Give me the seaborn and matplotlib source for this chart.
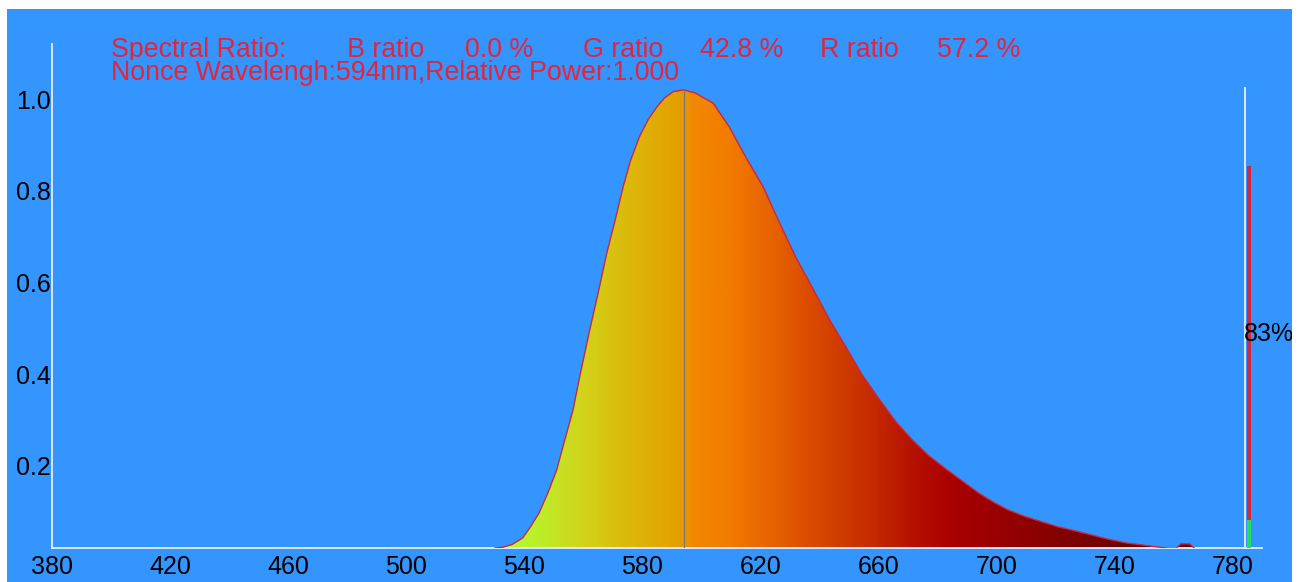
import numpy as np
import matplotlib
matplotlib.use("Agg")
import matplotlib.pyplot as plt
import seaborn as sns
from matplotlib.colors import LinearSegmentedColormap
from matplotlib.patches import Rectangle
from matplotlib.transforms import Bbox, TransformedBbox

# spectrum (nm, relative power)
wavelength = [530, 533, 536, 539.5, 542, 545, 548, 551, 553.5, 556.5, 559, 562, 565, 568,
              571, 573.5, 576, 579, 582, 585, 587.5, 590.5, 594, 598, 604, 609.5, 615,
              621, 626.5, 632, 637.5, 643.5, 649, 654.5, 660.5, 666, 671.5, 677, 683,
              688.5, 694, 699, 704, 710, 716, 721, 727, 732.5, 738, 744, 749.5, 755,
              758, 761, 762.5, 765.5, 767]
power = [0.0, 0.002, 0.008, 0.022, 0.045, 0.076, 0.12, 0.17, 0.23, 0.30, 0.38, 0.47, 0.555,
         0.644, 0.72, 0.788, 0.845, 0.897, 0.935, 0.963, 0.982, 0.996, 1.0, 0.993, 0.971,
         0.919, 0.854, 0.788, 0.71, 0.635, 0.57, 0.498, 0.439, 0.378, 0.323, 0.275, 0.236,
         0.202, 0.172, 0.146, 0.12, 0.1, 0.083, 0.068, 0.056, 0.046, 0.037, 0.028, 0.019,
         0.011, 0.0066, 0.002, 0.0, 0.0, 0.009, 0.009, 0.0]

peak_nm = 594
peak_power = 1.0
ratio_labels = ["B ratio", "G ratio", "R ratio"]
ratio_values = [0.0, 42.8, 57.2]
bar_green = 0.06
bar_total = 0.83

x_ticks = list(range(380, 781, 40))
y_ticks = [0.2, 0.4, 0.6, 0.8, 1.0]

BLUE = "#3595fe"
RED_TXT = "#e3243b"

sns.set_style("white")
plt.rcParams["font.family"] = ["Liberation Sans", "DejaVu Sans"]

W, H = 1300, 582
fig = plt.figure(figsize=(W / 100, H / 100), dpi=100)
fig.patch.set_facecolor("white")
bg = Rectangle((7 / W, 0), (1292 - 7) / W, (H - 9) / H, transform=fig.transFigure,
               facecolor=BLUE, edgecolor="none", zorder=-5)
fig.add_artist(bg)

ax = fig.add_axes([52 / W, 34 / H, 1210 / W, 504 / H])
ax.set_facecolor("none")

# gradient fill under the curve, clipped to the spectrum
stops = [(530, "#b2ff30"), (545, "#bcee28"), (560, "#d2d21a"), (575, "#dcb80a"),
         (592, "#e4a000"), (597, "#f28800"), (610, "#f27a00"), (625, "#e66000"),
         (640, "#d84600"), (655, "#c83000"), (670, "#b81400"), (685, "#aa0000"),
         (700, "#9a0000"), (720, "#860000"), (740, "#700000"), (770, "#5c0000")]
lo, hi = stops[0][0], stops[-1][0]
cmap = LinearSegmentedColormap.from_list(
    "spec", [((s - lo) / (hi - lo), c) for s, c in stops])
grid = np.linspace(380, 790, 1200)
grad = cmap(np.clip((grid - lo) / (hi - lo), 0, 1))[None, :, :]
fill = ax.fill_between(wavelength, power, 0, color="none", lw=0)
im = ax.imshow(grad, extent=[380, 790, 0, 1.1], aspect="auto", origin="lower", zorder=1)
im.set_clip_path(fill.get_paths()[0], ax.transData)

sns.lineplot(x=wavelength, y=power, ax=ax, color="#c8283c", lw=1, errorbar=None, zorder=3)
ax.vlines(peak_nm, 0, peak_power, color="#7a7a7a", lw=1, zorder=4)

ax.set_xlim(380, 790)
ax.set_ylim(0, 1.1)
ax.set_xticks(x_ticks)
ax.set_xticklabels([str(t) for t in x_ticks])
ax.set_yticks(y_ticks)
ax.set_yticklabels([f"{t:.1f}" for t in y_ticks])
ax.tick_params(direction="in", length=5, width=1, color="white", labelcolor="black",
               labelsize=18)
ax.tick_params(axis="x", pad=5)
ax.tick_params(axis="y", pad=1)
for lab in ax.get_yticklabels():
    lab.set_verticalalignment("top")
for s in ["top", "right"]:
    ax.spines[s].set_visible(False)
for s in ["left", "bottom"]:
    ax.spines[s].set_color("#e6f0ff")
    ax.spines[s].set_linewidth(1.3)
ax.set_xlabel("")
ax.set_ylabel("")

# ratio bar on the right
rax = fig.add_axes([1245 / W, 34 / H, 14 / W, 460 / H])
rax.set_facecolor("none")
rax.set_xlim(0, 1)
rax.set_ylim(0, 1)
rax.bar(0.29, bar_green, width=0.24, color="#22e05a", edgecolor="none", lw=0, zorder=1)
rax.bar(0.29, bar_total - bar_green, bottom=bar_green, width=0.24, color="#d0283c",
        edgecolor="none", lw=0, zorder=1)
rax.set_xticks([])
rax.set_yticks([0.2, 0.9])
rax.set_yticklabels([])
rax.tick_params(axis="y", direction="in", length=5, width=1, color="white")
for s in ["top", "right", "bottom"]:
    rax.spines[s].set_visible(False)
rax.spines["left"].set_color("#e6f0ff")
rax.spines["left"].set_linewidth(1.3)

pct = fig.text(1244 / W, 1 - 334 / H, f"{bar_total * 100:.0f}%", ha="left", va="center",
               fontsize=18, color="black")
pct.set_clip_on(True)
pct.set_clip_box(TransformedBbox(Bbox([[7 / W, 0], [1292 / W, 1]]), fig.transFigure))

# header texts
y1 = 1 - 50 / H
fig.text(111 / W, y1, "Spectral Ratio:", fontsize=19.3, color=RED_TXT, va="center")
xs_lab = [347, 583, 820]
xs_val = [465, 700, 937]
for lab, val, xl, xv in zip(ratio_labels, ratio_values, xs_lab, xs_val):
    fig.text(xl / W, y1, lab, fontsize=19.3, color=RED_TXT, va="center")
    fig.text(xv / W, y1, f"{val:.1f} %", fontsize=19.3, color=RED_TXT, va="center")
fig.text(111 / W, 1 - 73 / H,
         f"Nonce Wavelengh:{peak_nm}nm,Relative Power:{peak_power:.3f}",
         fontsize=19.3, color=RED_TXT, va="center",
         bbox=dict(facecolor=BLUE, edgecolor="none", pad=0))

fig.savefig("out.png", dpi=100)
